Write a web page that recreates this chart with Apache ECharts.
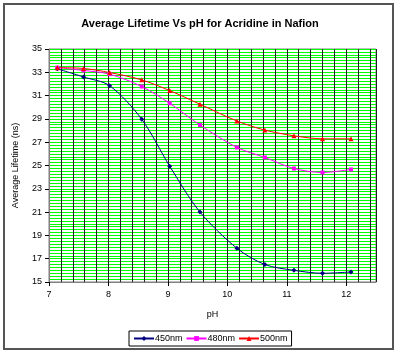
<!DOCTYPE html>
<html>
<head>
<meta charset="utf-8">
<script src="https://cdn.jsdelivr.net/npm/echarts@6/dist/echarts.min.js"></script>
<style>
  html, body { margin: 0; padding: 0; background: #fff; }
  #chart { width: 400px; height: 354px; }
</style>
</head>
<body>
<div id="chart"></div>
<script>
// pH values (x) and lifetimes in ns for each wavelength
var phValues = [7.14, 7.58, 8.02, 8.56, 9.03, 9.54, 10.16, 10.63, 11.12, 11.6, 12.08];
var life450 = [33.3, 32.6, 31.85, 28.97, 24.94, 21.0, 17.9, 16.5, 16.0, 15.75, 15.86];
var life480 = [33.4, 33.16, 32.84, 31.78, 30.34, 28.47, 26.55, 25.69, 24.74, 24.4, 24.66];
var life500 = [33.4, 33.33, 32.98, 32.35, 31.43, 30.26, 28.82, 28.04, 27.55, 27.29, 27.29];
var seriesNames = ['450nm', '480nm', '500nm'];

var chart = echarts.init(document.getElementById('chart'));

function pairs(ys) {
    var out = [];
    for (var i = 0; i < phValues.length; i++) {
        out.push([phValues[i], ys[i]]);
    }
    return out;
}

var font = 'Arial, "Liberation Sans", sans-serif';

var option = {
    backgroundColor: '#fff',
    animation: false,
    title: {
        text: 'Average Lifetime Vs pH for Acridine in Nafion',
        left: 'center',
        top: 13,
        textStyle: { fontFamily: font, fontSize: 11, fontWeight: 'bold', color: '#000' }
    },
    legend: {
        data: seriesNames,
        top: 331,
        left: 129,
        itemWidth: 20,
        itemHeight: 6,
        itemGap: 3,
        padding: [3, 4],
        borderColor: '#000',
        borderWidth: 1,
        borderRadius: 0,
        textStyle: { fontFamily: font, fontSize: 9, color: '#000', padding: [0, 0, 0, -4] }
    },
    graphic: [{
        type: 'rect',
        shape: { x: 4, y: 4, width: 389, height: 345 },
        style: { fill: null, stroke: '#555', lineWidth: 2 },
        z: 100
    }],
    grid: { left: 49, top: 49, width: 327, height: 233, show: true, borderColor: '#808080', borderWidth: 1 },
    xAxis: [{
        type: 'value',
        min: 7,
        max: 12.5,
        interval: 1,
        z: 2,
        name: 'pH',
        nameLocation: 'middle',
        nameGap: 28,
        nameTextStyle: { fontFamily: font, fontSize: 9, color: '#000' },
        axisLine: { show: true, lineStyle: { color: '#808080' } },
        axisTick: { show: true, length: 4, lineStyle: { color: '#000' } },
        axisLabel: { fontFamily: font, fontSize: 9, color: '#000', margin: 8,
            showMaxLabel: false },
        splitLine: { show: false }
    }, {
        type: 'value',
        min: 7,
        max: 12.5,
        interval: 0.2,
        z: 1,
        show: true,
        axisLine: { show: false },
        axisTick: { show: false },
        axisLabel: { show: false },
        splitLine: { show: true, lineStyle: { color: '#222', width: 1 } }
    }],
    yAxis: [{
        type: 'value',
        min: 15,
        max: 35,
        interval: 2,
        z: 2,
        name: 'Average Lifetime (ns)',
        nameLocation: 'middle',
        nameGap: 29,
        nameTextStyle: { fontFamily: font, fontSize: 9, color: '#000' },
        axisLine: { show: true, lineStyle: { color: '#808080' } },
        axisTick: { show: true, length: 4, lineStyle: { color: '#000' } },
        axisLabel: { fontFamily: font, fontSize: 9, color: '#000', margin: 7 },
        splitLine: { show: false }
    }, {
        type: 'value',
        min: 15,
        max: 35,
        interval: 0.25,
        z: 0,
        position: 'left',
        axisLine: { show: false },
        axisTick: { show: false },
        axisLabel: { show: false },
        splitLine: { show: true, lineStyle: { color: '#00ff00', width: 1 } }
    }],
    series: [{
        name: seriesNames[0],
        type: 'line',
        data: pairs(life450),
        smooth: 0.3,
        symbol: 'diamond',
        symbolSize: 5,
        color: '#000080',
        lineStyle: { width: 1 },
        z: 5
    }, {
        name: seriesNames[1],
        type: 'line',
        data: pairs(life480),
        smooth: 0.3,
        symbol: 'rect',
        symbolSize: 4,
        color: '#ff00ff',
        lineStyle: { width: 1 },
        z: 5
    }, {
        name: seriesNames[2],
        type: 'line',
        data: pairs(life500),
        smooth: 0.3,
        symbol: 'triangle',
        symbolSize: 5,
        color: '#ff0000',
        lineStyle: { width: 1 },
        z: 5
    }]
};

chart.setOption(option);
</script>
</body>
</html>
